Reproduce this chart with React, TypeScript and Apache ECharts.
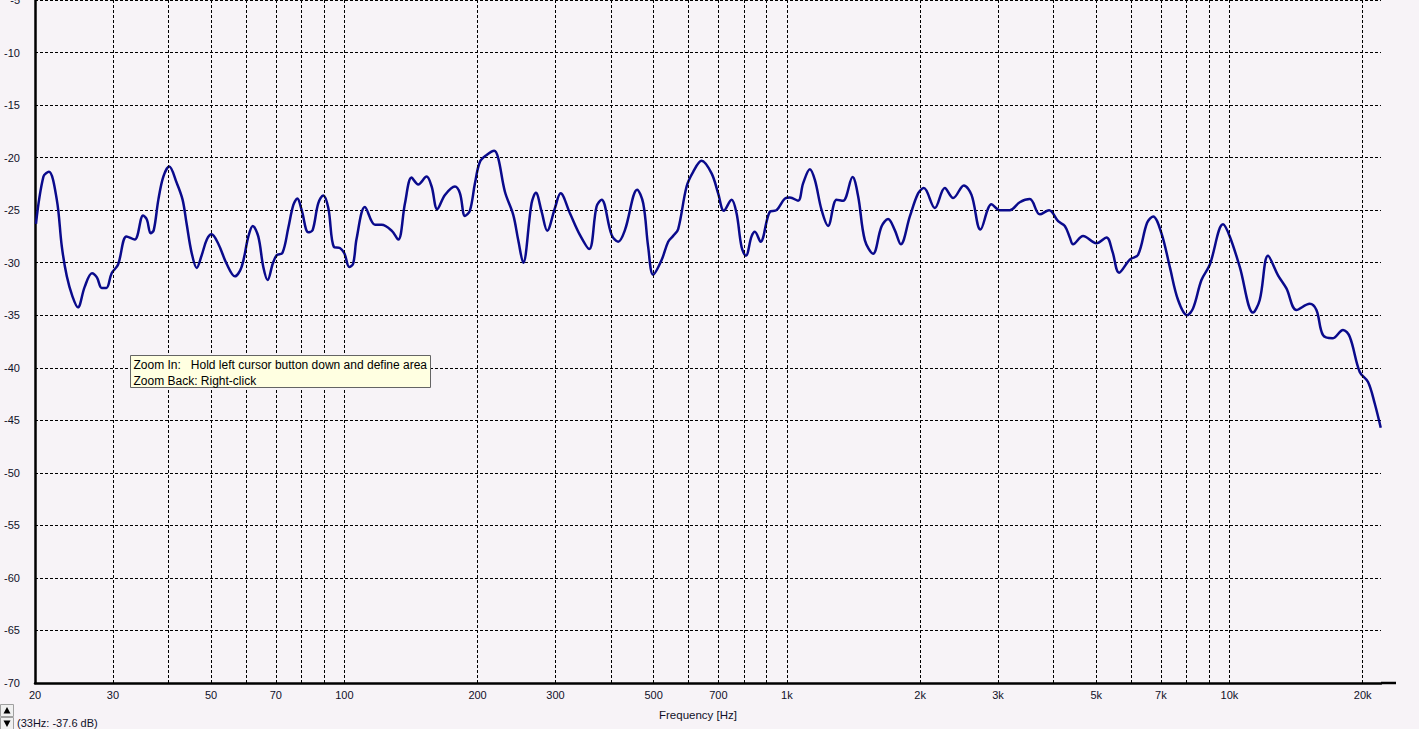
import React, { useEffect, useRef } from "react";
import * as echarts from "echarts";

// Frequency response (Hz) and level (dB)
const freqHz = [
  20.1, 20.9, 21.5, 22.4, 23.0, 23.6, 24.3, 25.0, 25.9, 26.9, 27.6, 28.3, 29.0, 29.8, 30.8, 32.2, 33.6,
  35.1, 35.8, 36.5, 37.1, 38.0, 39.0, 40.2, 41.8, 43.1, 44.0, 45.2, 46.4, 47.6, 48.9, 50.1, 51.9, 54.2,
  56.6, 58.6, 60.7, 62.1, 63.9, 65.6, 67.1, 68.9, 70.3, 72.5, 74.7, 76.7, 78.3, 80.1, 82.9, 84.8, 87.3,
  89.6, 92.0, 94.7, 97.7, 100.0, 102.6, 104.7, 106.6, 111.3, 117.3, 121.4, 127.9, 132.4, 137.1, 141.9,
  146.9, 153.4, 157.5, 162.1, 168.8, 177.8, 182.5, 187.3, 192.2, 197.3, 202.5, 209.7, 218.1, 222.7,
  230.6, 240.8, 247.1, 253.6, 264.9, 270.9, 279.1, 287.3, 299.1, 308.1, 323.4, 340.6, 357.5, 371.5,
  381.3, 401.7, 415.7, 430.5, 458.9, 473.5, 485.9, 498.7, 521.0, 539.2, 553.4, 568.0, 593.4, 614.1,
  641.5, 675.8, 699.3, 720.4, 749.8, 769.6, 789.9, 807.8, 832.0, 846.5, 872.0, 915.1, 947.6, 989.4,
  1015.5, 1060, 1088, 1127, 1157, 1198, 1239, 1295, 1340, 1407, 1449, 1500, 1566, 1636, 1693, 1753,
  1809, 1896, 1979, 2039, 2159, 2274, 2375, 2511, 2613, 2738, 2900, 3027, 3189, 3359, 3539, 3728, 3913,
  4100, 4246, 4358, 4432, 4669, 5006, 5274, 5441, 5632, 5954, 6217, 6515, 6721, 7021, 7331, 7654, 8021,
  8275, 8645, 9026, 9672, 10016, 10550, 11306, 11706, 12222, 12875, 13450, 14168, 15184, 15722, 16272,
  17088, 18056, 18698, 19696, 20566, 21294, 21970,
];
const levelDb = [
  -26.3, -21.8, -21.35, -24.0, -28.5, -31.3, -33.2, -34.25, -32.3, -31.0, -31.4, -32.4, -32.4, -31.0,
  -30.2, -27.5, -27.8, -25.5, -25.9, -27.2, -26.9, -24.0, -21.8, -20.85, -22.4, -24.0, -26.25, -29.1,
  -30.5, -29.3, -27.8, -27.3, -28.2, -30.1, -31.3, -30.4, -27.5, -26.5, -27.5, -30.4, -31.65, -30.1,
  -29.3, -29.05, -26.7, -24.5, -23.9, -25.0, -27.1, -26.9, -24.35, -23.6, -24.8, -28.5, -28.6, -29.1,
  -30.4, -30.1, -27.7, -24.7, -26.4, -26.4, -26.95, -27.8, -24.35, -21.9, -22.55, -21.8, -22.75, -24.9,
  -23.55, -22.75, -23.4, -25.55, -25.05, -22.45, -20.4, -19.75, -19.35, -20.05, -23.25, -25.45, -27.85,
  -30.0, -24.35, -23.35, -25.15, -26.95, -24.8, -23.4, -25.3, -27.35, -28.7, -24.65, -24.0, -27.35,
  -28.0, -26.9, -23.05, -24.35, -28.5, -31.15, -29.75, -28.0, -27.45, -26.8, -22.75, -21.35, -20.3,
  -21.5, -23.4, -25.05, -24.0, -25.3, -28.5, -29.35, -27.5, -27.05, -28.0, -25.15, -25.0, -23.9, -23.8,
  -24.1, -22.45, -21.1, -22.15, -25.0, -26.5, -24.0, -24.1, -21.85, -23.7, -27.85, -29.15, -26.55,
  -25.85, -26.9, -28.25, -25.6, -23.4, -22.9, -24.8, -22.9, -23.85, -22.65, -23.55, -26.85, -24.45,
  -25.0, -25.0, -24.25, -23.95, -25.4, -25.0, -26.05, -26.5, -27.6, -28.25, -27.45, -28.15, -27.6,
  -28.95, -30.95, -29.7, -29.25, -26.2, -25.6, -27.2, -30.4, -33.55, -35.0, -34.35, -31.65, -30.2,
  -26.35, -27.5, -30.4, -34.75, -33.55, -29.35, -31.2, -32.45, -34.5, -33.9, -34.5, -36.9, -37.2, -36.4,
  -37.05, -40.4, -41.35, -43.4, -45.7,
];

// Axis settings
const freqMin = 20;
const freqMax = 22000;
const dbMin = -70;
const dbMax = -5;
const dbStep = 5;

// Vertical grid lines and their labels
const gridFreqs = [
  20, 30, 40, 50, 60, 70, 80, 90, 100, 200, 300, 400, 500, 600, 700, 800, 900, 1000, 2000, 3000, 4000,
  5000, 6000, 7000, 8000, 9000, 10000, 20000,
];
const labelFreqs = [20, 30, 50, 70, 100, 200, 300, 500, 700, 1000, 2000, 3000, 5000, 7000, 10000, 20000];
const labelTexts = ["20", "30", "50", "70", "100", "200", "300", "500", "700", "1k", "2k", "3k", "5k", "7k", "10k", "20k"];

const axisTitle = "Frequency [Hz]";
const hintLine1 = "Zoom In:   Hold left cursor button down and define area";
const hintLine2 = "Zoom Back: Right-click";
const cursorText = "(33Hz: -37.6 dB)";

const FONT = "'Liberation Sans', Arial, sans-serif";
const BG = "#f7f3f7";
const TEXT = "#101028";

export default function App() {
  const ref = useRef<HTMLDivElement>(null);

  useEffect(() => {
    if (!ref.current) return;
    const chart = echarts.init(ref.current, undefined, { renderer: "svg" });

    const curve = freqHz.map((f, i) => [f, levelDb[i]]);
    const markData = gridFreqs.map((f) => {
      const li = labelFreqs.indexOf(f);
      return {
        xAxis: f,
        lineStyle: {
          color: f === freqMin ? "rgba(0,0,0,0)" : "#000",
          width: 1,
          type: [3, 2],
        },
        label: {
          show: li >= 0,
          position: "start",
          distance: 6,
          formatter: li >= 0 ? labelTexts[li] : "",
          color: TEXT,
          fontSize: 11,
          fontFamily: FONT,
        },
      };
    });

    chart.setOption({
      animation: false,
      backgroundColor: BG,
      grid: {
        left: 35,
        top: 0,
        right: 38,
        bottom: 46,
        outerBoundsMode: "none",
        containLabel: false,
      },
      xAxis: {
        type: "log",
        logBase: 10,
        min: freqMin,
        max: freqMax,
        axisLine: { show: true, lineStyle: { color: "#000", width: 2.5 } },
        axisTick: { show: false },
        axisLabel: { show: false },
        splitLine: { show: false },
        minorSplitLine: { show: false },
      },
      yAxis: {
        type: "value",
        min: dbMin,
        max: dbMax,
        interval: dbStep,
        axisLine: { show: true, lineStyle: { color: "#000", width: 2.5 } },
        axisTick: { show: false },
        axisLabel: {
          margin: 15,
          color: TEXT,
          fontSize: 11,
          fontFamily: FONT,
        },
        splitLine: {
          show: true,
          lineStyle: { color: "#000", width: 1, type: [3, 2] },
        },
      },
      series: [
        {
          type: "line",
          name: "grid",
          data: [[freqMin, dbMin]],
          showSymbol: false,
          symbol: "none",
          lineStyle: { width: 0, opacity: 0 },
          silent: true,
          z: 1,
          markLine: {
            silent: true,
            symbol: ["none", "none"],
            animation: false,
            data: markData,
          },
        },
        {
          type: "line",
          name: "response",
          data: curve,
          showSymbol: false,
          symbol: "none",
          smooth: 0.35,
          lineStyle: { color: "#0a0a8c", width: 2.5 },
          z: 3,
        },
      ],
    });

    const end = chart.convertToPixel({ xAxisIndex: 0, yAxisIndex: 0 }, [freqMax, dbMin]) as number[];
    const start = chart.convertToPixel({ xAxisIndex: 0, yAxisIndex: 0 }, [freqMin, dbMin]) as number[];
    const titleX = (start[0] + end[0]) / 2 - 10;

    chart.setOption({
      graphic: [
        {
          type: "line",
          z: 100,
          shape: { x1: end[0], y1: end[1], x2: end[0] + 15, y2: end[1] },
          style: { stroke: "#000", lineWidth: 2.5 },
        },
        {
          type: "text",
          z: 100,
          x: titleX,
          y: end[1] + 32,
          style: {
            text: axisTitle,
            fill: TEXT,
            font: `11.5px ${FONT}`,
            align: "center",
            verticalAlign: "middle",
          },
        },
        {
          type: "rect",
          z: 100,
          shape: { x: 130.5, y: 355.5, width: 300, height: 32 },
          style: { fill: "#ffffe1", stroke: "#646464", lineWidth: 1 },
        },
        {
          type: "text",
          z: 101,
          x: 133.5,
          y: 365,
          style: { text: hintLine1, fill: "#000", font: `12px ${FONT}`, verticalAlign: "middle" },
        },
        {
          type: "text",
          z: 101,
          x: 133.5,
          y: 380.5,
          style: { text: hintLine2, fill: "#000", font: `12px ${FONT}`, verticalAlign: "middle" },
        },
        {
          type: "rect",
          z: 100,
          shape: { x: 0.5, y: 704.5, width: 13, height: 12 },
          style: { fill: "#f0f0f0", stroke: "#a0a0a0", lineWidth: 1 },
        },
        {
          type: "polygon",
          z: 101,
          shape: { points: [[3.5, 713.5], [10.5, 713.5], [7, 707]] },
          style: { fill: "#000" },
        },
        {
          type: "rect",
          z: 100,
          shape: { x: 0.5, y: 717.5, width: 13, height: 12 },
          style: { fill: "#f0f0f0", stroke: "#a0a0a0", lineWidth: 1 },
        },
        {
          type: "polygon",
          z: 101,
          shape: { points: [[3.5, 720.5], [10.5, 720.5], [7, 727]] },
          style: { fill: "#000" },
        },
        {
          type: "text",
          z: 100,
          x: 17,
          y: 723,
          style: { text: cursorText, fill: TEXT, font: `11px ${FONT}`, verticalAlign: "middle" },
        },
      ],
    });

    return () => chart.dispose();
  }, []);

  return (
    <div
      ref={ref}
      style={{ position: "absolute", left: 0, top: 0, width: 1419, height: 729, background: BG }}
    />
  );
}
